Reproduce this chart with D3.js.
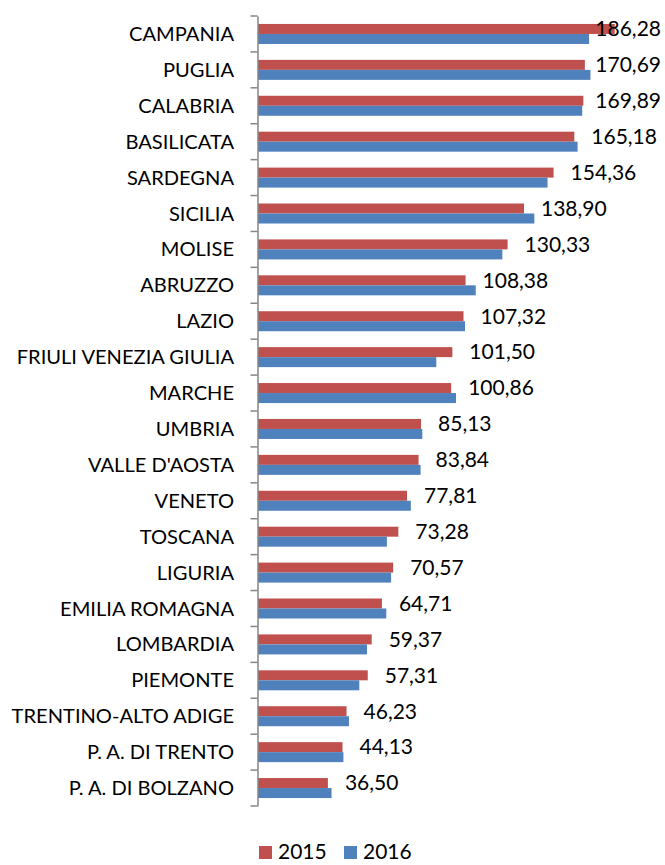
<!DOCTYPE html>
<html>
<head>
<meta charset="utf-8">
<script src="https://cdn.jsdelivr.net/npm/d3@7"></script>
<style>
  body { margin: 0; background: #fff; }
  text { font-family: Lato, "Open Sans", sans-serif; fill: #000; }
</style>
</head>
<body>
<div id="chart_root"></div>
<script>
const regions = ["CAMPANIA", "PUGLIA", "CALABRIA", "BASILICATA", "SARDEGNA", "SICILIA",
    "MOLISE", "ABRUZZO", "LAZIO", "FRIULI VENEZIA GIULIA", "MARCHE", "UMBRIA",
    "VALLE D'AOSTA", "VENETO", "TOSCANA", "LIGURIA", "EMILIA ROMAGNA", "LOMBARDIA",
    "PIEMONTE", "TRENTINO-ALTO ADIGE", "P. A. DI TRENTO", "P. A. DI BOLZANO"];
const values2015 = [186.28, 170.69, 169.89, 165.18, 154.36, 138.90, 130.33, 108.38, 107.32,
    101.50, 100.86, 85.13, 83.84, 77.81, 73.28, 70.57, 64.71, 59.37, 57.31, 46.23, 44.13, 36.50];
const values2016 = [172.9, 173.6, 169.3, 166.9, 151.2, 144.3, 127.6, 113.7, 108.1,
    93.1, 103.4, 85.8, 84.9, 79.8, 67.3, 69.5, 67.0, 56.9, 52.9, 47.5, 44.6, 38.4];
const seriesNames = ["2015", "2016"];
const colors = ["#C0504D", "#4F81BD"];

const W = 665, H = 865;
const margin = { top: 16, left: 258, bottom: 59 };

const svg = d3.select("#chart_root")
    .append("svg")
    .attr("width", W)
    .attr("height", H);

const x = d3.scaleLinear()
    .domain([0, 200])
    .range([margin.left, margin.left + 383]);

const y = d3.scaleBand()
    .domain(regions)
    .range([margin.top, H - margin.bottom])
    .paddingInner(0)
    .paddingOuter(0);

const barH = 10;
const fmt = v => v.toFixed(2).replace(".", ",");

// bars
const g = svg.append("g");
regions.forEach((r, i) => {
    const mid = y(r) + y.bandwidth() / 2;
    g.append("rect")
        .attr("x", x(0))
        .attr("y", mid - barH)
        .attr("width", x(values2015[i]) - x(0))
        .attr("height", barH)
        .attr("fill", colors[0]);
    g.append("rect")
        .attr("x", x(0))
        .attr("y", mid)
        .attr("width", x(values2016[i]) - x(0))
        .attr("height", barH)
        .attr("fill", colors[1]);
});

// axis
const axis = svg.append("g")
    .attr("transform", "translate(" + (x(0) - 0.5) + ",0)")
    .call(d3.axisLeft(y).tickSize(0).tickFormat(""));
axis.select(".domain").attr("stroke", "#868686").attr("stroke-width", 1.5);
const bounds = regions.map(r => y(r)).concat([y.range()[1]]);
axis.selectAll(".bnd")
    .data(bounds)
    .enter()
    .append("line")
    .attr("x1", -7)
    .attr("x2", 0)
    .attr("y1", d => d)
    .attr("y2", d => d)
    .attr("stroke", "#868686")
    .attr("stroke-width", 1.5);

// category labels
svg.append("g")
    .selectAll("text")
    .data(regions)
    .enter()
    .append("text")
    .attr("x", 234)
    .attr("y", d => y(d) + y.bandwidth() / 2)
    .attr("dy", "0.35em")
    .attr("text-anchor", "end")
    .style("font-size", "20.1px")
    .text(d => d);

// value labels (2015)
svg.append("g")
    .selectAll("text")
    .data(values2015)
    .enter()
    .append("text")
    .attr("y", (d, i) => y(regions[i]) + y.bandwidth() / 2 - barH / 2)
    .attr("dy", "0.35em")
    .style("font-size", "21px")
    .text(d => fmt(d))
    .attr("x", function(d) {
        const w = this.getComputedTextLength();
        return Math.min(x(d) + 17, 661 - w);
    });

// legend
const legend = svg.append("g");
const lx = [259, 344];
seriesNames.forEach((s, i) => {
    legend.append("rect")
        .attr("x", lx[i])
        .attr("y", 846)
        .attr("width", 13)
        .attr("height", 13)
        .attr("fill", colors[i]);
    legend.append("text")
        .attr("x", lx[i] + 19)
        .attr("y", 859)
        .style("font-size", "21px")
        .text(s);
});
</script>
</body>
</html>
